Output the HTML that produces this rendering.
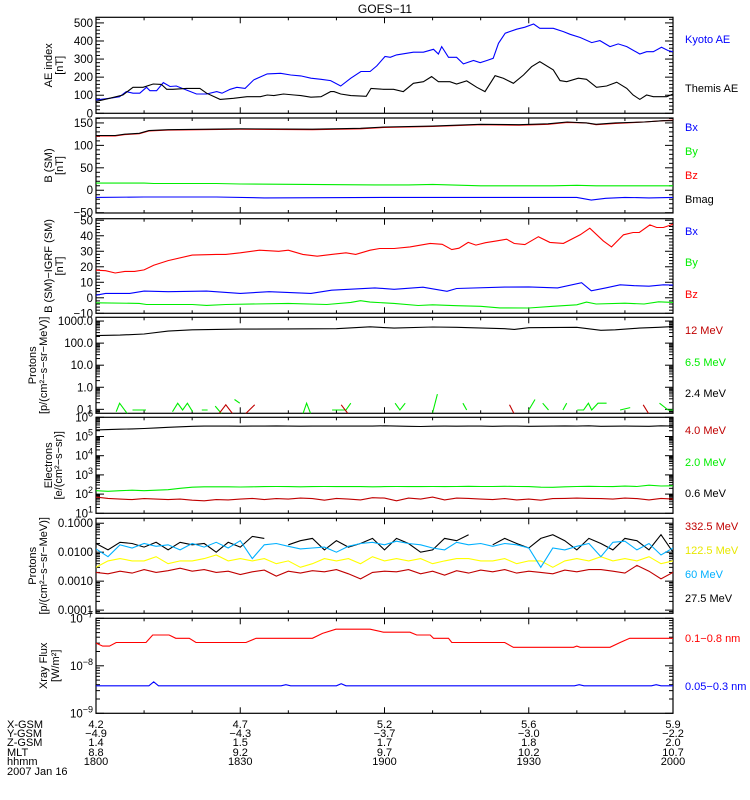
<!DOCTYPE html>
<html><head><meta charset="utf-8"><title>GOES-11</title>
<style>
html,body{margin:0;padding:0;background:#fff;}
svg{display:block;font-family:"Liberation Sans",sans-serif;}
</style></head>
<body>
<svg id="chart" width="750" height="800" viewBox="0 0 750 800" xmlns="http://www.w3.org/2000/svg">
<text x="385" y="13" font-size="12" text-anchor="middle">GOES−11</text>
</svg>
<script>
// ---------- data ----------
const kyotoT=[0,2.8,4.9,6.3,7.7,9.1,10.5,11.2,12.6,14,15.4,16.7,18.8,20.9,23,25.1,26.2,27.9,29.3,31,32.8,35.6,38.4,40.5,42.6,44.7,46.8,48.8,50.9,53,55.1,57,58.4,60.1,61.2,62.5,66,68.1,70.2,71.2,71.9,73.3,75,76.4,78.5,79.9,81.3,82.6,83.7,85.1,87.5,89.2,91,92.3,95.1,97.2,98.6,100.7,103.1,104.8,106.9,108.6,110.4,113.1,114.5,115.9,117.6,119,120];
const kyotoAE=[74,83,92,120,111,111,144,125,125,170,148,151,129,107,107,120,111,133,144,138,185,218,221,212,207,194,188,181,151,194,231,231,262,314,310,323,338,338,354,328,369,310,310,273,292,280,292,304,387,443,465,476,494,470,470,452,437,419,391,402,369,384,369,328,341,341,365,347,341];
const themisT=[0,2.8,5.6,7.7,9.8,11.9,13.6,14.7,16,18.8,21.6,23,25.8,28.6,31.4,34.2,35.6,37,39,41.2,42.6,44.7,46.8,48.8,49.5,50.9,53,56.2,57.2,59.8,61.9,63.9,66,68.1,69.8,71.2,73.6,75,77.1,79.2,80.9,83,84.7,86.8,88.9,90.6,92.3,95.1,96.5,97.9,100.3,102,104.1,106.2,108.3,110.4,111.7,113.1,114.5,115.9,118.7,120];
const themisAE=[65,83,101,144,144,162,160,133,133,138,138,111,77,83,92,92,101,98,107,101,98,89,92,120,120,107,98,94,138,133,133,120,166,175,203,175,175,162,179,144,120,208,194,166,212,258,286,240,181,175,194,188,144,151,172,138,101,77,101,92,92,107];

const bmagT=[0,4,6,9,11,15,30,45,55,60,70,80,88,94,98,102,104,108,114,118,120];
const bmag=[122,122,125,127,133,135,137,136,138,141,143,147,146,148,152,150,147,150,152,155,155];
const bzT=[0,4,6,9,11,15,30,45,55,60,70,80,88,94,98,102,104,108,114,118,120];
const bz=[121,121,124,126,132,134,136,135,137,140,142,146,145,147,151,150,146,149,152,155,156];
const byT=[0,10,12,25,30,58,65,70,80,95,100,104,110,120];
const by=[16,16,15,15,14,12,12,13,10,10,11,10,10,10];
const bxT=[0,10,25,35,60,90,100,103,106,110,115,120];
const bx=[-16,-15,-15,-17,-16,-16,-16,-22,-18,-16,-17,-16];

const dbzT=[0,2,4,6,8,10,12,15,20,25,27,30,34,38,40,43,46,49,52,54,57,59,62,65.3,69.5,72,74,75.5,77.4,79,81,83.3,85.4,87,89.2,92,94.4,97.2,100.7,102.7,105.5,107.2,109.7,111.7,113,115.2,116.6,118,120];
const dbz=[17.8,17.5,16,17,17,18,21,24,27.5,28,28,29,30.7,30,30.7,28,26.8,28,29,28,30.7,31.8,31.8,32.8,35.1,34.5,31.1,32,35.7,34,35.5,36.7,37.8,35,34.3,39.4,35.7,35.1,40.6,44.9,36.7,32.8,40.6,42.1,42.1,47,45.3,45.3,47.4];
const dbxT=[0,2,7,10,15,23,30,36,44.7,49,58,62,68,73,75,85,90,96,101,103,106,109,112,115,118,120];
const dbx=[1.7,2.8,2.8,4.3,3.9,4.3,2.8,3.9,2.8,4.9,6.4,5.5,6.8,4.2,6,6.9,7,6.4,9.7,4.5,6.4,8.4,7.8,7.5,8.4,8.2];
const dbyT=[0,9,10.5,20,23,27,40,48,53,55,57,62,67,70,75,80,84,90,95,100,102,104,110,114,117,120];
const dby=[-3.2,-3.6,-4.3,-4.3,-4.9,-4.3,-3.6,-4.3,-3,-1.9,-2.8,-3.6,-5,-4.5,-5.1,-5.5,-6.5,-6.6,-5.5,-4.5,-2.8,-4,-3.5,-4,-2.6,-3];

const p24T=[0,5,10,15,20,30,40,50,57,62,70,75,85,87,90,100,105,108,113,117,120];
const p24=[220,230,260,350,400,430,440,450,550,480,540,520,450,420,500,520,380,400,480,520,560];
const p65T=[4.2,4.9,6.6,null,7.6,10.4,null,15.9,17,18,19,20.1,null,22,23.2,null,24.8,26.2,null,28.8,29.9,null,43,43.8,44.7,null,49.1,52,53,null,62.2,63.2,64.3,null,70,71,null,76.3,77.1,null,90,91.3,null,92.9,94.1,null,97.1,97.9,null,100.1,101.4,102.4,103.1,104.4,106.2,null,109,111.1,null,117.2,119,120];
const p65=[0.078,0.19,0.06,null,0.093,0.093,null,0.078,0.19,0.093,0.19,0.078,null,0.093,0.093,null,0.14,0.06,null,0.28,0.19,null,0.06,0.19,0.06,null,0.093,0.093,0.19,null,0.19,0.093,0.19,null,0.07,0.49,null,0.19,0.093,null,0.093,0.28,null,0.19,0.093,null,0.093,0.19,null,0.093,0.093,0.19,0.093,0.19,0.19,null,0.093,0.12,null,0.19,0.093,0.093];
const p12T=[25.5,27,28.5,null,31,33,null,51,52.5,null,86,87,null,113.8,115];
const p12=[0.06,0.16,0.06,null,0.06,0.16,null,0.16,0.06,null,0.16,0.06,null,0.16,0.06];

const e40=[220000,230000,240000,250000,260000,280000,300000,320000,340000,350000,350000,350000,345000,350000,350000,355000,350000,345000,350000,350000,350000,350000,350000,350000,360000,350000,340000,330000,345000,350000,345000,350000,350000,340000,350000,350000,340000,345000,350000,355000,350000,360000,340000,345000,350000,345000,340000,360000,350000];
const e20=[150,140,150,160,150,160,170,200,230,240,240,240,235,240,245,250,245,240,245,250,245,245,245,240,245,250,245,245,250,245,250,255,250,250,255,250,245,230,225,240,250,255,250,245,260,250,290,265,270];
const e06=[70,60,55,52,58,55,52,55,48,45,52,50,55,60,52,58,55,62,58,48,60,55,50,65,62,45,62,55,70,50,62,60,55,52,58,50,55,48,58,60,62,60,58,55,62,58,50,60,55];

const hp60=[0.013,0.007,0.018,0.014,0.020,0.016,0.018,0.012,0.020,0.015,0.022,0.014,0.025,0.006,0.018,0.020,0.016,0.013,0.014,0.015,0.010,0.016,0.020,0.022,0.018,0.024,0.020,0.018,0.014,0.012,0.022,0.018,0.020,0.016,0.020,0.018,0.014,0.003,0.014,0.012,0.016,0.020,0.007,0.022,0.024,0.012,0.020,0.008,0.014];
const hp275=[0.020,0.012,0.022,0.020,0.015,0.022,0.012,0.022,0.018,0.020,0.010,0.022,0.015,0.035,0.030,null,0.018,0.025,0.030,0.012,0.025,0.015,0.020,0.030,0.012,0.030,0.020,0.010,0.012,0.030,0.025,0.040,null,0.018,0.030,0.020,0.014,0.030,0.040,0.025,0.012,0.030,0.020,0.012,0.030,0.025,0.012,0.040,0.010];
const hp1225=[0.003,0.005,0.006,0.005,0.005,0.007,0.004,0.005,0.005,0.006,0.008,0.005,0.006,0.005,0.006,0.004,0.005,0.003,0.004,0.006,0.005,0.006,0.004,0.007,0.005,0.006,0.005,0.006,0.004,0.005,0.006,0.006,0.005,0.005,0.006,0.004,0.005,0.005,0.003,0.005,0.006,0.005,0.007,0.005,0.006,0.005,0.007,0.004,0.005];
const hp3325=[0.002,0.0018,0.0022,0.0019,0.0025,0.002,0.0023,0.0028,0.0022,0.0025,0.002,0.0022,0.0017,0.0021,0.0024,0.0015,0.0022,0.0019,0.0023,0.0021,0.0025,0.0018,0.0012,0.002,0.0022,0.0021,0.0025,0.0018,0.0022,0.0016,0.0023,0.0019,0.0024,0.0021,0.0025,0.0019,0.0022,0.002,0.0018,0.0024,0.0021,0.0025,0.0025,0.0022,0.0019,0.0035,0.0022,0.0012,0.002];

const xlT=[0,1.4,2.8,4.2,6.2,10.4,11.8,15.2,16.6,19.4,20.8,31.2,33.3,45,47.1,49.9,57,59.8,65.3,66.7,69.5,70.2,73.3,74,85,86.8,99.3,100,100.7,106.9,109,111,120];
const xl=[3.0e-8,2.6e-8,2.6e-8,3.1e-8,3.1e-8,3.1e-8,4.45e-8,4.45e-8,3.8e-8,3.8e-8,3.1e-8,3.1e-8,3.8e-8,3.8e-8,4.8e-8,5.9e-8,5.9e-8,5.1e-8,5.1e-8,4.45e-8,4.45e-8,3.8e-8,3.8e-8,3.1e-8,3.1e-8,2.45e-8,2.45e-8,2.6e-8,2.45e-8,2.45e-8,3.1e-8,3.8e-8,3.8e-8];
const xsT=[0,11,12,13,38.5,39.5,40.5,50,51,52,99.5,100.5,101.5,115.5,116.5,117.5,120];
const xs=[3.8e-9,3.8e-9,4.6e-9,3.8e-9,3.8e-9,4.0e-9,3.8e-9,3.8e-9,4.2e-9,3.8e-9,3.8e-9,4.0e-9,3.8e-9,3.8e-9,4.0e-9,3.8e-9,3.8e-9];

const xTickMin=[0,30,60,90,120];
const xgsm=["4.2","4.7","5.2","5.6","5.9"];
const ygsm=["−4.9","−4.3","−3.7","−3.0","−2.2"];
const zgsm=["1.4","1.5","1.7","1.8","2.0"];
const mlt=["8.8","9.2","9.7","10.2","10.7"];
const hhmm=["1800","1830","1900","1930","2000"];

// ---------- layout ----------
const NS="http://www.w3.org/2000/svg";
const svg=document.getElementById('chart');
const X0=96,X1=673;
function xs_(t){return X0+(t/120)*(X1-X0);}
function mk(tag,attrs,parent){const e=document.createElementNS(NS,tag);for(const k in attrs)e.setAttribute(k,attrs[k]);(parent||svg).appendChild(e);return e;}

const panels=[
 {top:17.3,bot:113.3,log:false,min:0,max:531,major:[0,100,200,300,400,500],labels:["0","100","200","300","400","500"],minorStep:20,ylab:["AE index","[nT]"],tx:[52,63]},
 {top:118,bot:213,log:false,min:-50.7,max:161,major:[-50,0,50,100,150],labels:["−50","0","50","100","150"],minorStep:10,ylab:["B (SM)","[nT]"],tx:[52,63]},
 {top:218.7,bot:313.3,log:false,min:-10,max:51,major:[-10,0,10,20,30,40,50],labels:["−10","0","10","20","30","40","50"],minorStep:2,ylab:["B (SM)−IGRF (SM)","[nT]"],tx:[52,63]},
 {top:317.3,bot:413.3,log:true,min:-1.18,max:3.17,major:[-1,0,1,2,3],labels:["0.1","1.0","10.0","100.0","1000.0"],ylab:["Protons","[p/(cm²−s−sr−MeV)]"],tx:[36,47]},
 {top:417.3,bot:513.3,log:true,min:1,max:6,major:[1,2,3,4,5,6],labels:["10|1","10|2","10|3","10|4","10|5","10|6"],ylab:["Electrons","[e/(cm²−s−sr)]"],tx:[52,62]},
 {top:518.3,bot:613.3,log:true,min:-4.11,max:-0.83,major:[-4,-3,-2,-1],labels:["0.0001","0.0010","0.0100","0.1000"],ylab:["Protons","[p/(cm²−s−sr−MeV)]"],tx:[36,47]},
 {top:618.3,bot:713.3,log:true,min:-9,max:-7,major:[-9,-8,-7],labels:["10|−9","10|−8","10|−7"],ylab:["Xray Flux","[W/m²]"],tx:[47,59]}
];
function ys(p,v){const u=p.log?Math.log10(v):v;return p.bot-(u-p.min)/(p.max-p.min)*(p.bot-p.top);}

panels.forEach((p,i)=>{
  const g=mk('g',{});
  
  
  const cp=mk('clipPath',{id:'clip'+i},g);
  mk('rect',{x:X0,y:p.top,width:X1-X0,height:p.bot-p.top},cp);
  p.g=g;
  const ticks=[];
  if(p.log){
    for(let d=Math.floor(p.min);d<=Math.ceil(p.max);d++){for(let m=1;m<=9;m++){const u=d+Math.log10(m);if(u>=p.min-1e-6&&u<=p.max+1e-6)ticks.push([u,m===1]);}}
  } else {
    for(let v=Math.ceil(p.min/p.minorStep)*p.minorStep;v<=p.max;v+=p.minorStep){ticks.push([v,p.major.includes(v)]);}
  }
  ticks.forEach(([u,maj])=>{
    const y=p.bot-(u-p.min)/(p.max-p.min)*(p.bot-p.top);
    const L=maj?8:4;
    const t1=mk('line',{x1:X0,x2:X0+L,y1:y,y2:y,stroke:'#000','stroke-width':1},g);
    
    
    const t2=mk('line',{x1:X1,x2:X1-L,y1:y,y2:y,stroke:'#000','stroke-width':1},g);
    
    
  });
  for(let m=0;m<=120;m+=10){
    const x=xs_(m);const L=(m%30===0)?6:3;
    const a=mk('line',{x1:x,x2:x,y1:p.bot,y2:p.bot-L,stroke:'#000'},g);
    
    
    const b=mk('line',{x1:x,x2:x,y1:p.top,y2:p.top+L,stroke:'#000'},g);
    
    
  }
  p.major.forEach((u,k)=>{
    const y=p.bot-(u-p.min)/(p.max-p.min)*(p.bot-p.top);
    const lab=p.labels[k];
    const t=mk('text',{x:93,y:y+4,'font-size':11.5,'text-anchor':'end'},g);
    
    
    if(lab.includes('|')){const [b,e]=lab.split('|');t.textContent=b;const s=mk('tspan',{dy:-5,'font-size':9},t);s.textContent=e;}
    else t.textContent=lab;
  });
  const cy=(p.top+p.bot)/2;
  const at=mk('text',{transform:`translate(${p.tx[0]},${cy}) rotate(-90)`,'font-size':11,'text-anchor':'middle'},g);
  
  
  at.textContent=p.ylab[0];
  const at2=mk('text',{transform:`translate(${p.tx[1]},${cy}) rotate(-90)`,'font-size':11,'text-anchor':'middle'},g);
  
  
  at2.textContent=p.ylab[1];
  const fr=mk('rect',{x:X0,y:p.top,width:X1-X0,height:p.bot-p.top,fill:'none',stroke:'#000','stroke-width':1.2},g);
  
  
});

function series(pi,times,vals,color,name){
  const p=panels[pi];let d='';let pen=false;
  for(let k=0;k<vals.length;k++){
    const t=times?times[k]:k*120/(vals.length-1);
    const v=vals[k];
    if(v===null||t===null){pen=false;continue;}
    d+=(pen?'L':'M')+xs_(t).toFixed(1)+' '+ys(p,v).toFixed(1);pen=true;
  }
  const path=mk('path',{d:d,fill:'none',stroke:color,'stroke-width':1.1,'clip-path':`url(#clip${pi})`},p.g);
  
  
}
function legend(y,text,color,name){
  const t=mk('text',{x:685,y:y,'font-size':11,fill:color});
  
  
  t.textContent=text;
}
const BLUE='#0000ff',GREEN='#00ee00',RED='#ff0000',DRED='#c00000',YEL='#ffff00',CYAN='#00b0ff';
series(0,kyotoT,kyotoAE,BLUE,'kyoto-ae-line');
series(0,themisT,themisAE,'#000','themis-ae-line');
series(1,byT,by,GREEN,'by-line');
series(1,bxT,bx,BLUE,'bx-line');
series(1,bzT,bz,RED,'bz-line');
series(1,bmagT,bmag,'#000','bmag-line');
series(2,dbzT,dbz,RED,'dbz-line');
series(2,dbxT,dbx,BLUE,'dbx-line');
series(2,dbyT,dby,GREEN,'dby-line');
series(3,p24T,p24,'#000','proton-2-4mev-line');
series(3,p65T,p65,GREEN,'proton-6-5mev-line');
series(3,p12T,p12,DRED,'proton-12mev-line');
series(4,null,e40,'#000','electron-4-0mev-line');
series(4,null,e20,GREEN,'electron-2-0mev-line');
series(4,null,e06,DRED,'electron-0-6mev-line');
series(5,null,hp3325,DRED,'proton-332mev-line');
series(5,null,hp1225,YEL,'proton-122mev-line');
series(5,null,hp275,'#000','proton-27mev-line');
series(5,null,hp60,CYAN,'proton-60mev-line');
series(6,xlT,xl,RED,'xray-long-line');
series(6,xsT,xs,BLUE,'xray-short-line');

legend(43,'Kyoto AE',BLUE,'legend-kyoto-ae');
legend(92,'Themis AE','#000','legend-themis-ae');
legend(131,'Bx',BLUE,'legend-bx');
legend(155,'By',GREEN,'legend-by');
legend(179,'Bz',RED,'legend-bz');
legend(203,'Bmag','#000','legend-bmag');
legend(235,'Bx',BLUE,'legend-dbx');
legend(266,'By',GREEN,'legend-dby');
legend(298,'Bz',RED,'legend-dbz');
legend(334,'12 MeV',DRED,'legend-12mev');
legend(366,'6.5 MeV',GREEN,'legend-6-5mev');
legend(397,'2.4 MeV','#000','legend-2-4mev');
legend(434,'4.0 MeV',DRED,'legend-4-0mev');
legend(466,'2.0 MeV',GREEN,'legend-2-0mev');
legend(497,'0.6 MeV','#000','legend-0-6mev');
legend(530,'332.5 MeV',DRED,'legend-332mev');
legend(554,'122.5 MeV','#e8e800','legend-122mev');
legend(578,'60 MeV',CYAN,'legend-60mev');
legend(602,'27.5 MeV','#000','legend-27mev');
legend(642,'0.1−0.8 nm',RED,'legend-xray-long');
legend(690,'0.05−0.3 nm',BLUE,'legend-xray-short');

const rows=[["X-GSM",xgsm,728],["Y-GSM",ygsm,737],["Z-GSM",zgsm,746],["MLT",mlt,756],["hhmm",hhmm,765]];
rows.forEach(([lab,vals,y])=>{
  const t=mk('text',{x:7,y:y,'font-size':11});
  
  
  t.textContent=lab;
  vals.forEach((v,k)=>{
    const tv=mk('text',{x:xs_(xTickMin[k]),y:y,'font-size':11,'text-anchor':'middle'});
    
    
    tv.textContent=v;
  });
});
const dt=mk('text',{x:7,y:775,'font-size':11});


dt.textContent='2007 Jan 16';
</script>
</body></html>
